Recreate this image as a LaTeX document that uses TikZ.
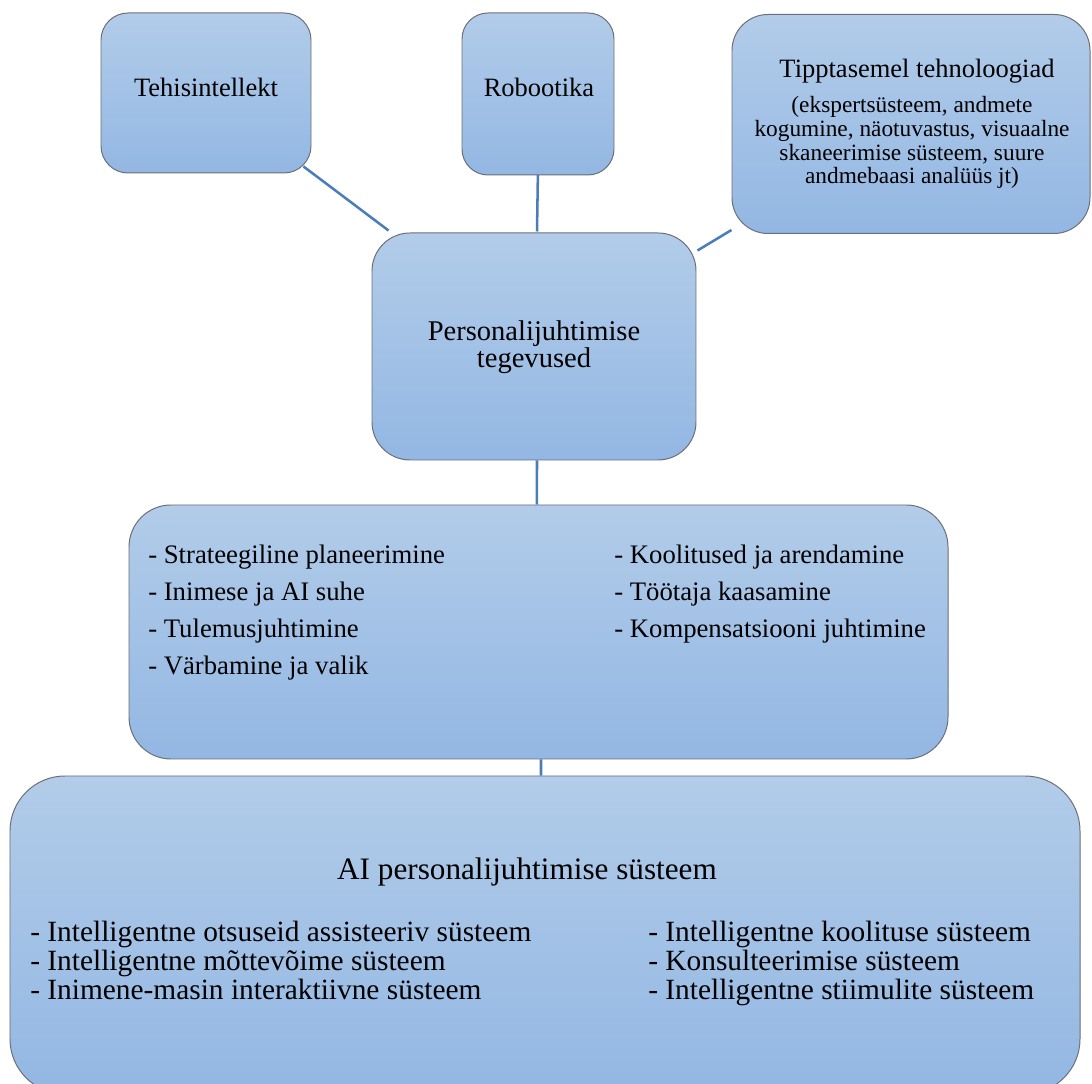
\documentclass[tikz,border=0pt]{standalone}
\usepackage{fontspec}
\setmainfont{Liberation Serif}
\pgfdeclarelayer{nodelayer}
\pgfdeclarelayer{edgelayer}
\pgfsetlayers{edgelayer,nodelayer,main}
\definecolor{boxtop}{HTML}{B2CCE9}
\definecolor{boxbottom}{HTML}{93B7E3}
\definecolor{boxline}{HTML}{6B6F75}
\definecolor{linkblue}{HTML}{4A7EBB}
\tikzstyle{blue box}=[draw=boxline, line width=0.7pt, top color=boxtop, bottom color=boxbottom, shape=rectangle, inner sep=0pt]
\tikzstyle{box text}=[fill=none, draw=none, align=center, anchor=base, inner sep=0pt]
\tikzstyle{list text}=[fill=none, draw=none, anchor=base west, inner sep=0pt]
\tikzstyle{link edge}=[draw=linkblue, line width=1.8pt]
\newcommand{\topsize}{\fontsize{18.85}{21}\selectfont}
\newcommand{\notesize}{\fontsize{16.6}{16.85}\selectfont}
\newcommand{\midsize}{\fontsize{20.3}{19.9}\selectfont}
\newcommand{\listsize}{\fontsize{19}{21}\selectfont}
\newcommand{\titlesize}{\fontsize{22.2}{24}\selectfont}
\newcommand{\biglistsize}{\fontsize{20.9}{23}\selectfont}

\begin{document}
\begin{tikzpicture}
	\useasboundingbox (0, 0) rectangle (27.3, 27.1);
	\begin{pgfonlayer}{nodelayer}
		\node [style=blue box, minimum width=5.25cm, minimum height=4cm, rounded corners=0.675cm] (0) at (5.15, 24.775) {};
		\node [style=blue box, minimum width=3.8cm, minimum height=4.05cm, rounded corners=0.65cm] (1) at (13.45, 24.75) {};
		\node [style=blue box, minimum width=8.95cm, minimum height=5.475cm, rounded corners=0.9cm] (2) at (22.775, 24) {};
		\node [style=blue box, minimum width=8.1cm, minimum height=5.675cm, rounded corners=0.95cm] (3) at (13.35, 18.4375) {};
		\node [style=blue box, minimum width=20.475cm, minimum height=6.35cm, rounded corners=1.05cm] (4) at (13.4625, 11.3) {};
		\node [style=blue box, minimum width=26.75cm, minimum height=7.95cm, rounded corners=1.375cm] (5) at (13.625, 3.725) {};

		\node [style=box text, font=\topsize] (6) at (5.15, 24.675) {Tehisintellekt};
		\node [style=box text, font=\topsize] (7) at (13.475, 24.675) {Robootika};
		\node [style=box text, font=\topsize] (8) at (22.925, 25.15) {Tipptasemel tehnoloogiad};
		\node [style=box text, font=\notesize] (9) at (22.8, 22.5) {(ekspertsüsteem, andmete\\kogumine, näotuvastus, visuaalne\\skaneerimise süsteem, suure\\andmebaasi analüüs jt)};
		\node [style=box text, font=\midsize] (10) at (13.35, 17.9) {Personalijuhtimise\\tegevused};

		\node [style=list text, font=\listsize] (11) at (3.7, 13) {- Strateegiline planeerimine};
		\node [style=list text, font=\listsize] (12) at (3.7, 12.075) {- Inimese ja AI suhe};
		\node [style=list text, font=\listsize] (13) at (3.7, 11.15) {- Tulemusjuhtimine};
		\node [style=list text, font=\listsize] (14) at (3.7, 10.225) {- Värbamine ja valik};
		\node [style=list text, font=\listsize] (15) at (15.35, 13) {- Koolitused ja arendamine};
		\node [style=list text, font=\listsize] (16) at (15.35, 12.075) {- Töötaja kaasamine};
		\node [style=list text, font=\listsize] (17) at (15.35, 11.15) {- Kompensatsiooni juhtimine};

		\node [style=box text, font=\titlesize] (18) at (13.175, 5.1) {AI personalijuhtimise süsteem};
		\node [style=list text, font=\biglistsize] (19) at (0.75, 3.55) {- Intelligentne otsuseid assisteeriv süsteem};
		\node [style=list text, font=\biglistsize] (20) at (0.75, 2.825) {- Intelligentne mõttevõime süsteem};
		\node [style=list text, font=\biglistsize] (21) at (0.75, 2.1) {- Inimene-masin interaktiivne süsteem};
		\node [style=list text, font=\biglistsize] (22) at (16.2, 3.55) {- Intelligentne koolituse süsteem};
		\node [style=list text, font=\biglistsize] (23) at (16.2, 2.825) {- Konsulteerimise süsteem};
		\node [style=list text, font=\biglistsize] (24) at (16.2, 2.1) {- Intelligentne stiimulite süsteem};
	\end{pgfonlayer}
	\begin{pgfonlayer}{edgelayer}
		\draw [style=link edge] ([xshift=-0.2cm, yshift=0.175cm]0.south east) to ([xshift=0.425cm, yshift=0.05cm]3.north west);
		\draw [style=link edge] ([yshift=0.2cm]1.south) to ([xshift=0.075cm, yshift=0.025cm]3.north);
		\draw [style=link edge] ([yshift=0.1cm]2.south west) to ([xshift=0.025cm, yshift=-0.45cm]3.north east);
		\draw [style=link edge] ([xshift=0.075cm]3.south) to ([xshift=-0.04cm]4.north);
		\draw [style=link edge] ([xshift=0.0625cm]4.south) to ([xshift=-0.1cm]5.north);
	\end{pgfonlayer}
\end{tikzpicture}
\end{document}
